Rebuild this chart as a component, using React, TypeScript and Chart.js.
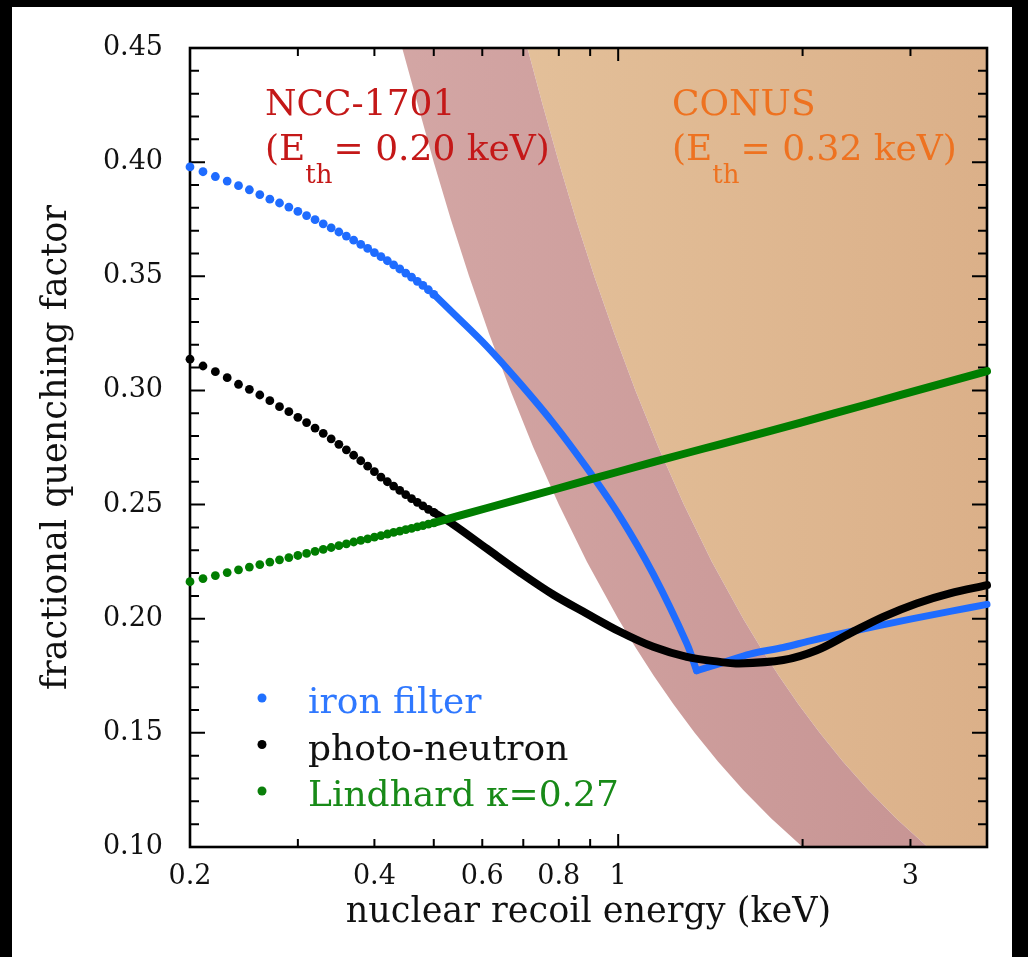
import React, { useEffect, useRef } from 'react';
import { Chart, registerables } from 'chart.js';

Chart.register(...registerables);

// ---------- axes ----------
const X_TICKS = [0.2, 0.3, 0.4, 0.5, 0.6, 0.7, 0.8, 0.9, 1, 2, 3, 4];
const X_LABELED = [0.2, 0.4, 0.6, 0.8, 1, 3];
const Y_LABELED = [0.1, 0.15, 0.2, 0.25, 0.3, 0.35, 0.4, 0.45];

// ---------- dotted (low-energy) part of the three series ----------
const DOT_E = [
  0.2, 0.21, 0.22, 0.23, 0.24, 0.25, 0.26, 0.27, 0.28, 0.29, 0.3, 0.31, 0.32, 0.33, 0.34, 0.35,
  0.36, 0.37, 0.38, 0.39, 0.4, 0.41, 0.42, 0.43, 0.44, 0.45, 0.46, 0.47, 0.48, 0.49, 0.5,
];
const IRON_DOT_Q = [
  0.3979, 0.3958, 0.3937, 0.3917, 0.3897, 0.3879, 0.3858, 0.3838, 0.3821, 0.3803, 0.3784, 0.3766,
  0.3748, 0.373, 0.3712, 0.3694, 0.3676, 0.3658, 0.364, 0.3622, 0.3604, 0.3586, 0.3568, 0.355,
  0.3532, 0.3514, 0.3496, 0.3478, 0.346, 0.3441, 0.3421,
];
const PHOTO_DOT_Q = [
  0.3137, 0.3107, 0.3082, 0.3056, 0.3027, 0.3005, 0.298, 0.2955, 0.2929, 0.2907, 0.2882, 0.2859,
  0.2835, 0.2812, 0.2788, 0.2764, 0.274, 0.2716, 0.2692, 0.2668, 0.2644, 0.262, 0.26, 0.2581,
  0.2562, 0.2544, 0.2526, 0.251, 0.2494, 0.2479, 0.2466,
];
const LINDHARD_DOT_Q = [
  0.2162, 0.2176, 0.2189, 0.2202, 0.2214, 0.2226, 0.2237, 0.2248, 0.2258, 0.2268, 0.2277, 0.2286,
  0.2295, 0.2304, 0.2312, 0.232, 0.2328, 0.2336, 0.2343, 0.235, 0.2357, 0.2364, 0.2371, 0.2378,
  0.2384, 0.239, 0.2396, 0.2402, 0.2408, 0.2414, 0.242,
];

// ---------- dense (continuous-looking) part ----------
const IRON_FALL_E = [0.5, 0.538, 0.611, 0.691, 0.784, 0.888, 1.007, 1.141, 1.294, 1.343];
const IRON_FALL_Q = [0.3421, 0.3338, 0.3192, 0.3032, 0.2856, 0.2662, 0.2447, 0.2195, 0.1892, 0.1772];
const IRON_RISE_E = [1.343, 1.5, 1.641, 1.86, 2.057, 2.39, 3.0, 3.5, 4.0];
const IRON_RISE_Q = [0.1772, 0.1812, 0.1845, 0.1874, 0.1903, 0.1943, 0.1998, 0.2033, 0.2063];

const PHOTO_LINE_E = [
  0.5, 0.538, 0.611, 0.691, 0.784, 0.888, 1.007, 1.141, 1.294, 1.466, 1.561, 1.86, 2.109, 2.39,
  2.708, 3.07, 3.48, 4.0,
];
const PHOTO_LINE_Q = [
  0.2466, 0.2413, 0.2306, 0.2203, 0.2105, 0.2023, 0.1943, 0.1877, 0.1833, 0.1811, 0.1804, 0.1819,
  0.1862, 0.1936, 0.2008, 0.2067, 0.2111, 0.2147,
];

const LINDHARD_LINE_E = [0.5, 0.611, 0.784, 1.007, 1.3, 1.466, 1.748, 2.244, 2.884, 4.0];
const LINDHARD_LINE_Q = [0.242, 0.2485, 0.2565, 0.2646, 0.2727, 0.2764, 0.2818, 0.2898, 0.2979, 0.3085];

// ---------- threshold bands (edge of each region) ----------
const BAND_Q = [
  0.5, 0.475, 0.45, 0.425, 0.4, 0.375, 0.35, 0.325, 0.3, 0.275, 0.25, 0.225, 0.2, 0.1875, 0.175,
  0.1625, 0.15, 0.1375, 0.125, 0.1125, 0.1, 0.09, 0.08,
];
const NCC_EDGE_E = [
  0.4, 0.421, 0.444, 0.471, 0.5, 0.533, 0.571, 0.615, 0.667, 0.727, 0.8, 0.889, 1.0, 1.067, 1.143,
  1.231, 1.333, 1.455, 1.6, 1.778, 2.0, 2.222, 2.5,
];
const CONUS_EDGE_E = [
  0.64, 0.674, 0.711, 0.753, 0.8, 0.853, 0.914, 0.985, 1.067, 1.164, 1.28, 1.422, 1.6, 1.707, 1.829,
  1.969, 2.133, 2.327, 2.56, 2.844, 3.2, 3.556, 4.0,
];
const FAR_E = 6;

// ---------- texts ----------
const LEGEND_LABELS = ['iron filter', 'photo-neutron', 'Lindhard κ=0.27'];
const LEGEND_TEXT_COLORS = ['#2f78ff', '#111111', '#188a18'];
const LEGEND_DOT_COLORS = ['#2070ff', '#000000', '#0a7f0a'];

const NCC_NAME = 'NCC-1701';
const NCC_THRESHOLD = '0.20';
const CONUS_NAME = 'CONUS';
const CONUS_THRESHOLD = '0.32';

const BLUE = '#1f6cff';
const BLACK = '#000000';
const GREEN = '#007d00';
const NCC_COLOR = '#c41818';
const CONUS_COLOR = '#ee7220';
const FONT = '"DejaVu Serif"';

Chart.defaults.font.family = FONT;
Chart.defaults.color = '#111';

const pts = (xs: number[], ys: number[]) => xs.map((x, i) => ({ x, y: ys[i] }));

const nearly = (a: number, b: number) => Math.abs(a - b) < 1e-9;

function hGradient(ctx: any, c0: string, c1: string, fallback: string) {
  const chart = ctx.chart;
  const area = chart.chartArea;
  if (!area) return fallback;
  const g = chart.ctx.createLinearGradient(area.left, 0, area.right, 0);
  g.addColorStop(0, c0);
  g.addColorStop(1, c1);
  return g;
}

let frameDrawn = false;

function drawFrame(chart: any) {
  const { ctx, chartArea: a, scales } = chart;
  const x = scales.x;
  const y = scales.y;
  ctx.save();
  ctx.strokeStyle = '#000';
  ctx.lineWidth = 2;
  ctx.beginPath();
  y.ticks.forEach((t: any) => {
    const p = y.getPixelForValue(t.value);
    const major = Y_LABELED.some((v) => Math.abs(v - t.value) < 1e-6);
    const len = major ? 15 : 9;
    ctx.moveTo(a.left, p);
    ctx.lineTo(a.left + len, p);
    ctx.moveTo(a.right, p);
    ctx.lineTo(a.right - len, p);
  });
  x.ticks.forEach((t: any) => {
    const p = x.getPixelForValue(t.value);
    const len = nearly(t.value, 1) ? 13 : 8;
    ctx.moveTo(p, a.bottom);
    ctx.lineTo(p, a.bottom - len);
    ctx.moveTo(p, a.top);
    ctx.lineTo(p, a.top + len);
  });
  ctx.stroke();
  ctx.lineWidth = 2.6;
  ctx.strokeRect(a.left, a.top, a.right - a.left, a.bottom - a.top);
  ctx.restore();
}

function drawThresholdLabel(ctx: any, x: number, y: number, name: string, value: string, color: string) {
  ctx.fillStyle = color;
  ctx.textBaseline = 'alphabetic';
  ctx.textAlign = 'left';
  ctx.font = `36px ${FONT}`;
  ctx.fillText(name, x, y);
  const y2 = y + 45;
  ctx.fillText('(E', x, y2);
  let w = ctx.measureText('(E').width;
  ctx.font = `26px ${FONT}`;
  ctx.fillText('th', x + w, y2 + 23);
  w += ctx.measureText('th').width;
  ctx.font = `36px ${FONT}`;
  ctx.fillText(`= ${value} keV)`, x + w + 1, y2);
}

const decorPlugin = {
  id: 'decor',
  beforeDatasetsDraw() {
    frameDrawn = false;
  },
  beforeDatasetDraw(chart: any, args: any) {
    const ds = chart.data.datasets[args.index];
    if (!ds.isBand && !frameDrawn) {
      drawFrame(chart);
      frameDrawn = true;
    }
  },
  afterDatasetsDraw(chart: any) {
    if (!frameDrawn) {
      drawFrame(chart);
      frameDrawn = true;
    }
  },
  afterDraw(chart: any) {
    const { ctx, chartArea: a } = chart;
    ctx.save();
    drawThresholdLabel(ctx, a.left + 75, a.top + 67, NCC_NAME, NCC_THRESHOLD, NCC_COLOR);
    drawThresholdLabel(ctx, a.left + 482, a.top + 67, CONUS_NAME, CONUS_THRESHOLD, CONUS_COLOR);

    ctx.font = `36px ${FONT}`;
    ctx.textAlign = 'left';
    ctx.textBaseline = 'alphabetic';
    LEGEND_LABELS.forEach((label, i) => {
      const dy = i * 46.5;
      ctx.fillStyle = LEGEND_DOT_COLORS[i];
      ctx.beginPath();
      ctx.arc(a.left + 72, a.top + 650 + dy, 4.5, 0, Math.PI * 2);
      ctx.fill();
      ctx.fillStyle = LEGEND_TEXT_COLORS[i];
      ctx.fillText(label, a.left + 118, a.top + 665 + dy);
    });
    ctx.restore();
  },
};

export default function App() {
  const canvasRef = useRef<HTMLCanvasElement | null>(null);

  useEffect(() => {
    const canvas = canvasRef.current;
    if (!canvas) return;

    const nccPolygon = [
      ...pts(NCC_EDGE_E, BAND_Q),
      ...pts([...CONUS_EDGE_E].reverse(), [...BAND_Q].reverse()),
    ];
    const conusPolygon = [
      ...pts(CONUS_EDGE_E, BAND_Q),
      { x: FAR_E, y: BAND_Q[BAND_Q.length - 1] },
      { x: FAR_E, y: BAND_Q[0] },
    ];

    const dots = (data: any[], color: string, order: number) => ({
      data,
      showLine: false,
      pointRadius: 4.4,
      pointBorderWidth: 0,
      pointBackgroundColor: color,
      borderColor: color,
      order,
      clip: false,
    });
    const line = (data: any[], color: string, width: number, order: number) => ({
      data,
      borderColor: color,
      borderWidth: width,
      pointRadius: 0,
      tension: 0.35,
      fill: false,
      borderCapStyle: 'round',
      borderJoinStyle: 'round',
      order,
      clip: false,
    });

    const chart = new Chart(canvas, {
      type: 'line',
      data: {
        datasets: [
          {
            isBand: true,
            data: conusPolygon,
            fill: 'shape',
            borderWidth: 0,
            pointRadius: 0,
            tension: 0,
            backgroundColor: (c: any) => hGradient(c, '#e9cba5', '#dbb089', '#e3c29b'),
            order: 20,
          } as any,
          {
            isBand: true,
            data: nccPolygon,
            fill: 'shape',
            borderWidth: 0,
            pointRadius: 0,
            tension: 0,
            backgroundColor: (c: any) => hGradient(c, '#d8adab', '#c69392', '#cfa09f'),
            order: 19,
          } as any,
          dots(pts(DOT_E, IRON_DOT_Q), BLUE, 3),
          line(pts(IRON_FALL_E, IRON_FALL_Q), BLUE, 7, 3),
          line(pts(IRON_RISE_E, IRON_RISE_Q), BLUE, 7, 3),
          dots(pts(DOT_E, PHOTO_DOT_Q), BLACK, 2),
          line(pts(PHOTO_LINE_E, PHOTO_LINE_Q), BLACK, 8, 2),
          dots(pts(DOT_E, LINDHARD_DOT_Q), GREEN, 1),
          line(pts(LINDHARD_LINE_E, LINDHARD_LINE_Q), GREEN, 8, 1),
        ] as any,
      },
      options: {
        responsive: false,
        animation: false,
        devicePixelRatio: 1,
        events: [],
        layout: { padding: { top: 41, right: 25, left: 0, bottom: 0 } },
        plugins: {
          legend: { display: false },
          tooltip: { enabled: false },
          title: { display: false },
        },
        scales: {
          x: {
            type: 'logarithmic',
            min: 0.2,
            max: 4,
            bounds: 'data',
            afterBuildTicks: (s: any) => {
              s.ticks = X_TICKS.map((v) => ({ value: v }));
            },
            afterFit: (s: any) => {
              s.height = 110;
            },
            grid: { display: false },
            border: { display: false },
            ticks: {
              autoSkip: false,
              maxRotation: 0,
              minRotation: 0,
              padding: 6,
              color: '#111',
              font: { size: 27, family: FONT },
              callback: (v: any) => {
                const m = X_LABELED.find((l) => nearly(l, Number(v)));
                return m === undefined ? '' : String(m);
              },
            },
            title: {
              display: true,
              text: 'nuclear recoil energy (keV)',
              color: '#111',
              font: { size: 35, family: FONT },
              padding: { top: 0, bottom: 23 },
            },
          },
          y: {
            type: 'linear',
            min: 0.1,
            max: 0.45,
            bounds: 'data',
            afterBuildTicks: (s: any) => {
              const t = [];
              for (let i = 10; i <= 45; i++) t.push({ value: i / 100 });
              s.ticks = t;
            },
            afterFit: (s: any) => {
              s.width = 178;
            },
            grid: { display: false },
            border: { display: false },
            ticks: {
              autoSkip: false,
              padding: 19,
              color: '#111',
              font: { size: 27, family: FONT },
              callback: (v: any) =>
                Y_LABELED.some((l) => Math.abs(l - Number(v)) < 1e-6) ? Number(v).toFixed(2) : '',
            },
            title: {
              display: true,
              text: 'fractional quenching factor',
              color: '#111',
              font: { size: 35, family: FONT },
              padding: { top: 24, bottom: 0 },
            },
          },
        },
      } as any,
      plugins: [decorPlugin],
    });

    return () => chart.destroy();
  }, []);

  return (
    <div style={{ position: 'fixed', left: 0, top: 0, width: 1028, height: 957, background: '#000' }}>
      <div style={{ position: 'absolute', left: 12, top: 7, width: 1000, height: 950, background: '#fff' }}>
        <canvas ref={canvasRef} width={1000} height={950} style={{ display: 'block', width: 1000, height: 950 }} />
      </div>
    </div>
  );
}
